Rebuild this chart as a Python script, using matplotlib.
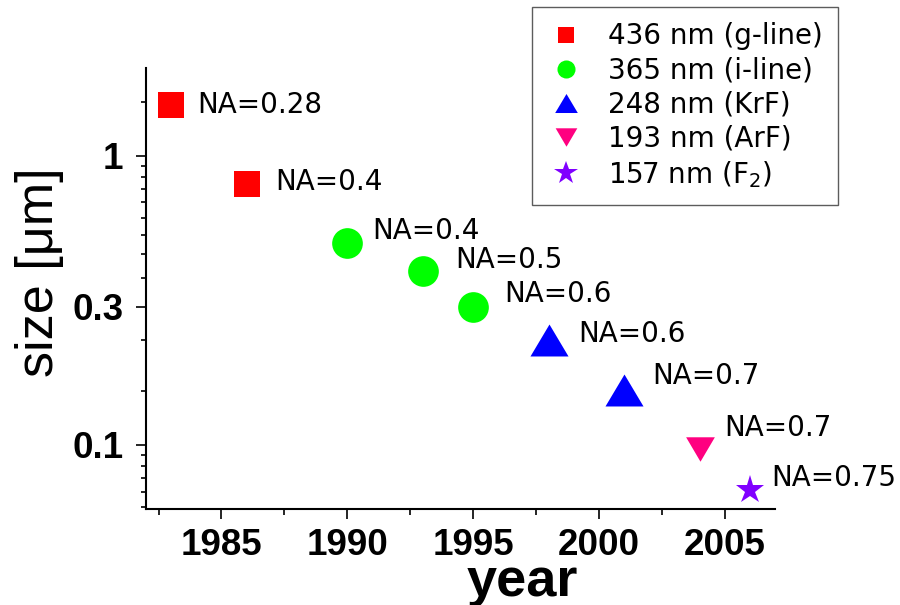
import matplotlib
matplotlib.use("Agg")
import matplotlib.pyplot as plt
from matplotlib.lines import Line2D
from matplotlib.ticker import FixedLocator, FixedFormatter, NullFormatter

# ---- data ----
years = [1983, 1986, 1990, 1993, 1995, 1998, 2001, 2004, 2006]
sizes = [1.5, 0.8, 0.5, 0.4, 0.3, 0.23, 0.155, 0.097, 0.07]
na_labels = ["NA=0.28", "NA=0.4", "NA=0.4", "NA=0.5", "NA=0.6",
             "NA=0.6", "NA=0.7", "NA=0.7", "NA=0.75"]
series_of_point = [0, 0, 1, 1, 1, 2, 2, 3, 4]
series_names = ["436 nm (g-line)", "365 nm (i-line)", "248 nm (KrF)",
                "193 nm (ArF)", "157 nm (F$_2$)"]
x_ticks = [1985, 1990, 1995, 2000, 2005]
y_ticks = [0.1, 0.3, 1]
y_tick_labels = ["0.1", "0.3", "1"]

# ---- style ----
DPI = 100
PT = 72.0 / DPI  # points per pixel
tri_up = [(0, 0.84), (-1, -0.84), (1, -0.84), (0, 0.84)]
tri_dn = [(0, -0.85), (-1, 0.85), (1, 0.85), (0, -0.85)]
colors = ["#ff0000", "#00ff00", "#0000ff", "#ff0080", "#8000ff"]
markers = ["s", "o", tri_up, tri_dn, "*"]
ms_main = [19.2, 22.1, 27.4, 20.7, 21.7]
ms_leg = [12.0, 13.0, 16.3, 15.6, 17.6]
# label offsets in pixels: (dx to text left, dy of cap-centre above marker)
label_offsets = [(26, 2), (29, 4), (25, 14), (32, 13), (31, 15),
                 (30, 8), (28, 16), (25, 23), (21, 14)]
x_minor = [1982.5, 1987.5, 1992.5, 1997.5, 2002.5]
y_minor = [0.0611, 0.0689, 0.0767, 0.0844, 0.0922, 0.1537, 0.2307,
           0.378, 0.456, 0.533, 0.611, 0.689, 0.767, 0.844, 0.922, 1.537]

fig = plt.figure(figsize=(9.0, 6.05), dpi=DPI)
ax = fig.add_axes([146 / 900, 1 - 508.5 / 605, (775 - 146) / 900, (508.5 - 68) / 605])

for s in range(len(series_names)):
    xs = [x for x, g in zip(years, series_of_point) if g == s]
    ys = [y for y, g in zip(sizes, series_of_point) if g == s]
    ax.plot(xs, ys, linestyle="None", marker=markers[s], color=colors[s],
            markersize=ms_main[s], markeredgewidth=0, zorder=3)

NA_SIZE = 20
for x, y, t, (dx, dy) in zip(years, sizes, na_labels, label_offsets):
    ax.annotate(t, xy=(x, y), xytext=(dx * PT, dy * PT - 0.729 * NA_SIZE / 2),
                textcoords="offset points", ha="left", va="baseline",
                fontfamily="DejaVu Sans", fontsize=NA_SIZE, zorder=4,
                annotation_clip=False)

ax.set_yscale("log")
ax.set_xlim(1982, 2007)
ax.set_ylim(0.0603, 2.01)

ax.xaxis.set_major_locator(FixedLocator(x_ticks))
ax.xaxis.set_minor_locator(FixedLocator(x_minor))
ax.yaxis.set_major_locator(FixedLocator(y_ticks))
ax.yaxis.set_major_formatter(FixedFormatter(y_tick_labels))
ax.yaxis.set_minor_locator(FixedLocator(y_minor))
ax.yaxis.set_minor_formatter(NullFormatter())

for sp in ["top", "right"]:
    ax.spines[sp].set_visible(False)
for sp in ["left", "bottom"]:
    ax.spines[sp].set_linewidth(1.5)

ax.tick_params(which="major", direction="out", length=10 * PT, width=1.2,
               labelsize=26.5, color="black")
ax.tick_params(which="minor", direction="out", length=5.5 * PT, width=1.2)
ax.tick_params(axis="x", which="major", pad=7)
ax.tick_params(axis="y", which="major", pad=9)
for lab in ax.get_xticklabels() + ax.get_yticklabels():
    lab.set_fontfamily("Liberation Sans")
    lab.set_fontweight("bold")

ax.set_xlabel("year", fontfamily="Liberation Sans", fontweight="bold",
              fontsize=39, va="baseline")
ax.xaxis.set_label_coords((522 - 146) / 629, (508.5 - 596) / 440.5)
ax.set_ylabel("size [μm]", fontfamily="Liberation Sans", fontsize=37.5,
              va="center", ha="center")
ax.yaxis.set_label_coords((39.5 - 146) / 629, (508.5 - 272) / 440.5)

handles = [Line2D([], [], linestyle="None", marker=markers[i], color=colors[i],
                  markersize=ms_leg[i], markeredgewidth=0)
           for i in range(len(series_names))]
leg = ax.legend(handles, series_names, loc="upper left",
                bbox_to_anchor=(532 / 900, 1 - 7 / 605),
                bbox_transform=fig.transFigure, borderaxespad=0,
                prop=dict(family="DejaVu Sans", size=20),
                handlelength=1.35, handletextpad=0.84, borderpad=0.55,
                labelspacing=0.22, fancybox=False, frameon=True)
leg.get_frame().set_edgecolor("#333333")
leg.get_frame().set_linewidth(1.0)

fig.savefig("out.png", dpi=DPI)
